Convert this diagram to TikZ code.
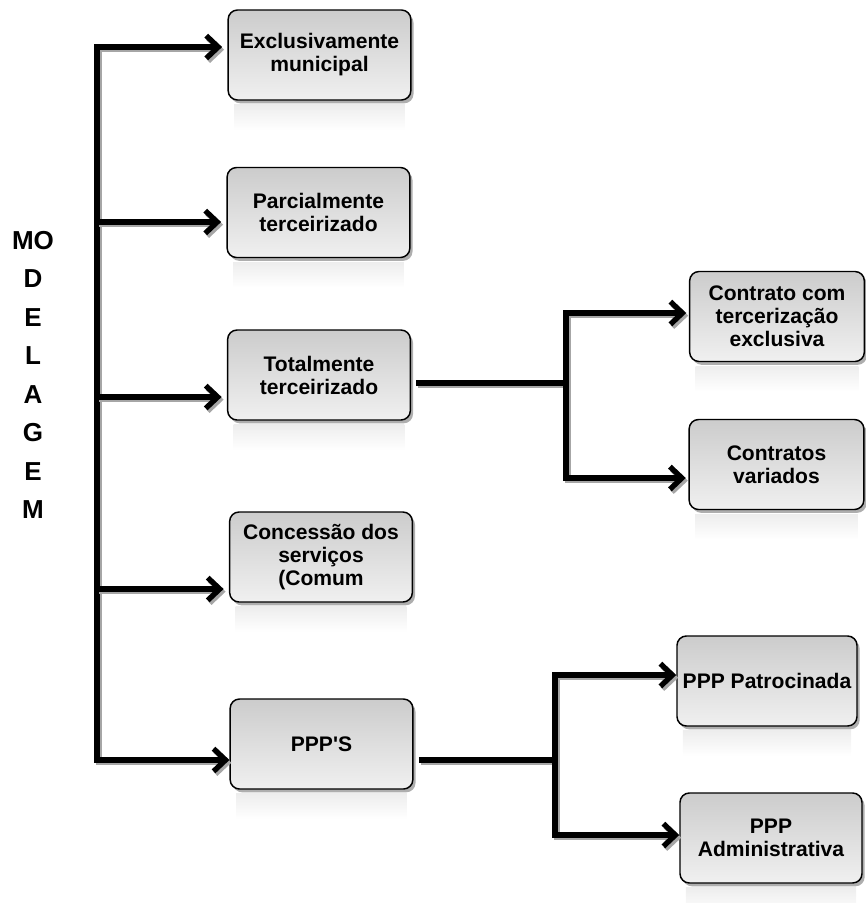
\documentclass[tikz,border=0pt]{standalone}
\usepackage{fontspec}
\setmainfont{Liberation Sans}
\usetikzlibrary{arrows.meta, shadows, backgrounds}
\definecolor{boxtop}{RGB}{204,204,204}
\definecolor{boxbot}{RGB}{240,240,240}

\begin{document}
\begin{tikzpicture}[x=0.75pt, y=-0.75pt,
  box/.style={draw=black, line width=1.1pt, rounded corners=7pt,
    top color=boxtop, bottom color=boxbot,
    minimum width=137pt, minimum height=67.5pt, align=center,
    font=\fontsize{15.8}{17.3}\selectfont\bfseries,
    drop shadow={shadow xshift=2pt, shadow yshift=-2.5pt, opacity=0.45, fill=black!70}},
  conn/.style={line width=4pt, line join=miter,
    preaction={draw=black!35, line width=4pt, transform canvas={shift={(1.5pt,-2pt)}}}},
  arr/.style={conn, -{Straight Barb[length=9pt, width=17pt]}},
  arrs/.style={conn, {Straight Barb[length=9pt, width=17pt]}-{Straight Barb[length=9pt, width=17pt]}}
]
\useasboundingbox (0,0) rectangle (865,903);

% vertical title
\node[font=\fontsize{19.5}{28.9}\selectfont\bfseries, align=center] (modelagem) at (33,375)
  {MO\\D\\E\\L\\A\\G\\E\\M};

% first level
\node[box] (ex) at (319.5,55) {Exclusivamente\\municipal};
\node[box] (parc) at (318.5,212.5) {Parcialmente\\terceirizado};
\node[box] (tot) at (319,375) {Totalmente\\terceirizado};
\node[box] (conc) at (321,557) {Concessão dos\\serviços\\(Comum};
\node[box] (ppp) at (321.5,744) {PPP\textquotesingle S};

% second level
\node[box, minimum width=131pt] (excl) at (777,316.5) {Contrato com\\tercerização\\exclusiva};
\node[box, minimum width=131pt] (var) at (776.5,464.5) {Contratos\\variados};
\node[box, minimum width=135pt] (pat) at (767,681) {PPP Patrocinada};
\node[box, minimum width=136.5pt] (adm) at (771,838) {PPP\\Administrativa};

% reflections
\begin{scope}[on background layer]
\foreach \b in {ex,parc,tot,conc,ppp,excl,var,pat,adm}
  \shade[top color=black!7, bottom color=white]
    ([xshift=5pt,yshift=-3pt]\b.south west) rectangle ([xshift=-5pt,yshift=-22pt]\b.south east);
\end{scope}

% trunk
\coordinate (t1) at (97,47);
\coordinate (t2) at (97,222);
\coordinate (t3) at (97,397);
\coordinate (t4) at (97,589);
\coordinate (t5) at (97,760);

\draw[arrs, shorten <=4pt] (t1 -| ex.west) -- (t1) -- (t5) -- (t5 -| ppp.west);
\foreach \t/\b in {t2/parc, t3/tot, t4/conc}
  \draw[arr, shorten >=4pt] (\t) -- (\t -| \b.west);

% branch of Totalmente terceirizado
\coordinate (j1) at (566,383);
\coordinate (j1u) at (566,313);
\coordinate (j1d) at (566,478);
\draw[conn, shorten <=4pt] (tot.east |- j1) -- (j1);
\draw[arrs, shorten <=2pt, shorten >=2pt] (j1u -| excl.west) -- (j1u) -- (j1d) -- (j1d -| var.west);

% branch of PPP'S
\coordinate (j2) at (555,760);
\coordinate (j2u) at (555,675);
\coordinate (j2d) at (555,835);
\draw[conn, shorten <=4pt] (ppp.east |- j2) -- (j2);
\draw[arrs] (j2u -| pat.west) -- (j2u) -- (j2d) -- (j2d -| adm.west);
\end{tikzpicture}
\end{document}
